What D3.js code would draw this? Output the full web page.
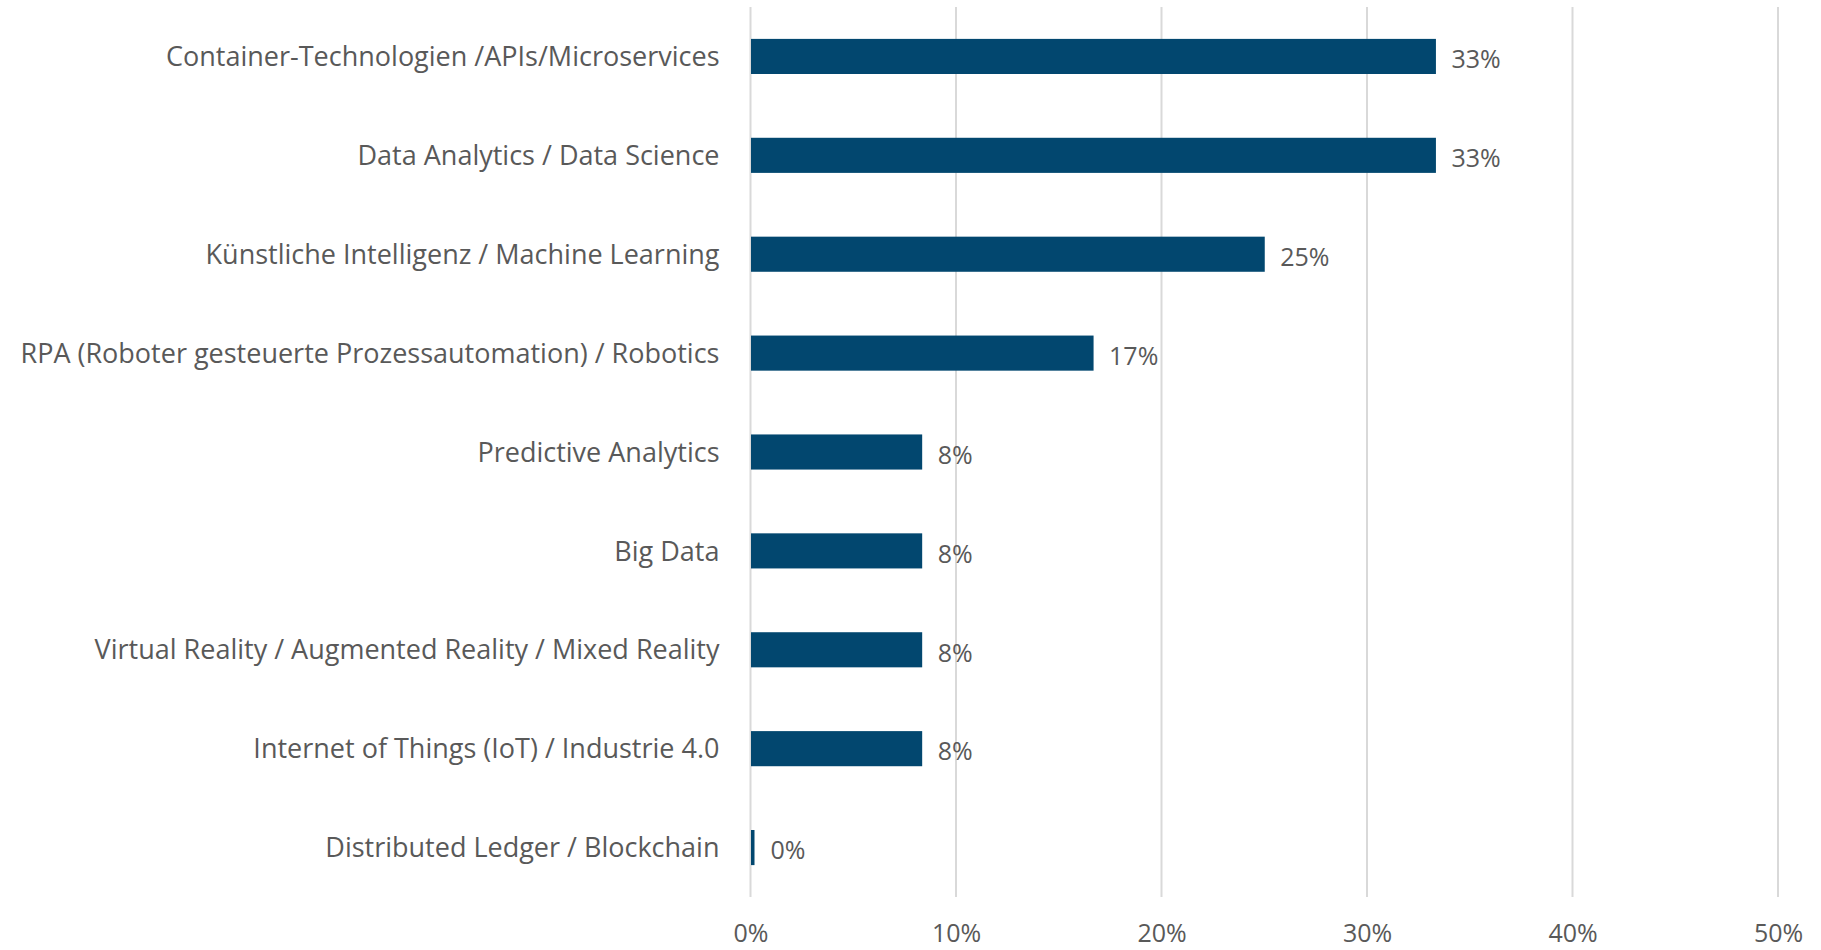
<!DOCTYPE html>
<html>
<head>
<meta charset="utf-8">
<script src="https://cdn.jsdelivr.net/npm/d3@7"></script>
<style>
  html, body { margin: 0; padding: 0; background: #ffffff; }
  svg { display: block; }
  text { font-family: "Open Sans", "Noto Sans", sans-serif; fill: #595959; }
</style>
</head>
<body>
<svg id="chart" width="1821" height="950"></svg>
<script>
// Share of respondents per technology topic
const categories = [
  "Container-Technologien /APIs/Microservices",
  "Data Analytics / Data Science",
  "Künstliche Intelligenz / Machine Learning",
  "RPA (Roboter gesteuerte Prozessautomation) / Robotics",
  "Predictive Analytics",
  "Big Data",
  "Virtual Reality / Augmented Reality / Mixed Reality",
  "Internet of Things (IoT) / Industrie 4.0",
  "Distributed Ledger / Blockchain"
];
const values = [0.3333, 0.3333, 0.25, 0.1667, 0.0833, 0.0833, 0.0833, 0.0833, 0];
const tickValues = [0, 0.1, 0.2, 0.3, 0.4, 0.5];

const svg = d3.select("#chart");
const margin = { top: 7, left: 750.5, right: 43, bottom: 53 };
const W = 1821, H = 950;

const x = d3.scaleLinear().domain([0, 0.5]).range([margin.left, W - margin.right]);
const y = d3.scaleBand().domain(categories).range([margin.top, H - margin.bottom]).paddingInner(0.645).paddingOuter(0.3225);

const pct = d3.format(".0%");

// vertical gridlines
svg.append("g")
  .selectAll("line")
  .data(tickValues)
  .join("line")
  .attr("x1", d => x(d)).attr("x2", d => x(d))
  .attr("y1", margin.top).attr("y2", H - margin.bottom)
  .attr("stroke", "#d9d9d9").attr("stroke-width", 2);

// x axis labels
const xAxis = d3.axisBottom(x).tickValues(tickValues).tickFormat(pct).tickSize(0).tickPadding(0);
const gx = svg.append("g").attr("transform", `translate(0,${H - 17})`).call(xAxis);
gx.select(".domain").remove();
gx.selectAll("text").attr("font-size", 25).attr("dy", "0.35em")
  .style("font-family", '"Open Sans", "Noto Sans", sans-serif').attr("fill", "#595959");

// category labels
const yAxis = d3.axisLeft(y).tickSize(0).tickPadding(31);
const gy = svg.append("g").attr("transform", `translate(${margin.left},1)`).call(yAxis);
gy.select(".domain").remove();
gy.selectAll("text").attr("font-size", 27)
  .style("font-family", '"Open Sans", "Noto Sans", sans-serif').attr("fill", "#595959");

// bars
svg.append("g")
  .selectAll("rect")
  .data(categories)
  .join("rect")
  .attr("x", x(0) + 0.5)
  .attr("y", d => y(d))
  .attr("height", y.bandwidth())
  .attr("width", (d, i) => Math.max(x(values[i]) - x(0), 3.5))
  .attr("fill", "#02476f");

// value labels
svg.append("g")
  .selectAll("text")
  .data(categories)
  .join("text")
  .attr("x", (d, i) => Math.max(x(values[i]), x(0) + 4) + 16)
  .attr("y", d => y(d) + y.bandwidth() / 2 + 3)
  .attr("dy", "0.35em")
  .attr("font-size", 25)
  .text((d, i) => pct(values[i]));
</script>
</body>
</html>
